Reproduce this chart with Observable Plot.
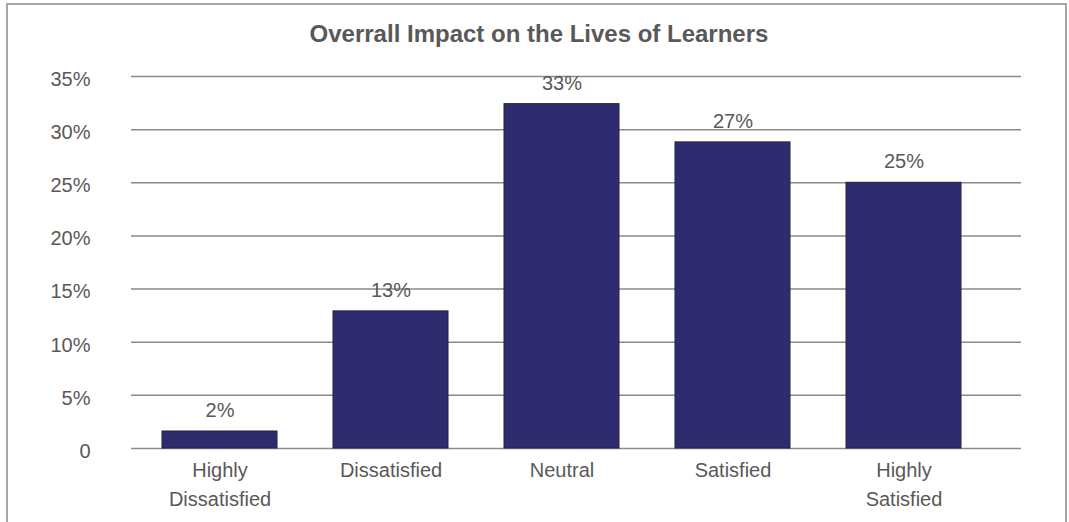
<!DOCTYPE html>
<html>
<head>
<meta charset="utf-8">
<script src="https://cdn.jsdelivr.net/npm/d3@7"></script>
<script src="https://cdn.jsdelivr.net/npm/@observablehq/plot@0.6"></script>
<style>
  html, body { margin: 0; padding: 0; background: #fff; }
  #wrap { position: relative; width: 1069px; height: 522px; overflow: hidden; font-family: "Liberation Sans", Arial, sans-serif; }
  #frame { position: absolute; left: 6px; top: 3px; width: 1057px; height: 600px; border: 2px solid #a6a6a6; box-sizing: content-box; }
  #title { position: absolute; left: 0; width: 1078px; top: 20px; text-align: center; font-size: 24px; font-weight: bold; color: #595959; line-height: 28px; }
  #chart { position: absolute; left: 0; top: 0; }
</style>
</head>
<body>
<div id="wrap">
  <div id="frame"></div>
  <div id="chart"></div>
  <div id="title">Overrall Impact on the Lives of Learners</div>
</div>
<script>
const categories = ["Highly\nDissatisfied", "Dissatisfied", "Neutral", "Satisfied", "Highly\nSatisfied"];
const values = [1.6, 12.9, 32.4, 28.8, 25.0];
const valueLabels = ["2%", "13%", "33%", "27%", "25%"];
const yTicks = [0, 5, 10, 15, 20, 25, 30, 35];

const data = categories.map((c, i) => ({cat: c, value: values[i], label: valueLabels[i]}));

const textColor = "#595959";

const chart = Plot.plot({
  width: 1069,
  height: 522,
  marginTop: 76,
  marginBottom: 74,
  marginLeft: 131,
  marginRight: 48,
  style: { fontFamily: "'Liberation Sans', Arial, sans-serif", background: "transparent" },
  x: { domain: categories, range: [134, 990], paddingInner: 0.327, paddingOuter: 0.1635, label: null },
  y: { domain: [0, 35], label: null },
  marks: [
    Plot.ruleY(yTicks, { stroke: "#8a8a8a", strokeWidth: 1.5 }),
    Plot.barY(data, { x: "cat", y: "value", fill: "#2e2b6f", stroke: "#23234a", strokeWidth: 1 }),
    Plot.text(data, { x: "cat", y: "value", text: "label", dy: -21, fontSize: 20, fill: textColor }),
    Plot.axisY(yTicks, {
      tickSize: 0, tickPadding: 41, fontSize: 20, fill: textColor, dy: 3, label: null,
      tickFormat: d => d === 0 ? "0" : d + "%"
    }),
    Plot.axisX({ tickSize: 0, tickPadding: 8, fontSize: 20, fill: textColor, lineHeight: 1.45, label: null })
  ]
});
document.getElementById("chart").appendChild(chart);
</script>
</body>
</html>
